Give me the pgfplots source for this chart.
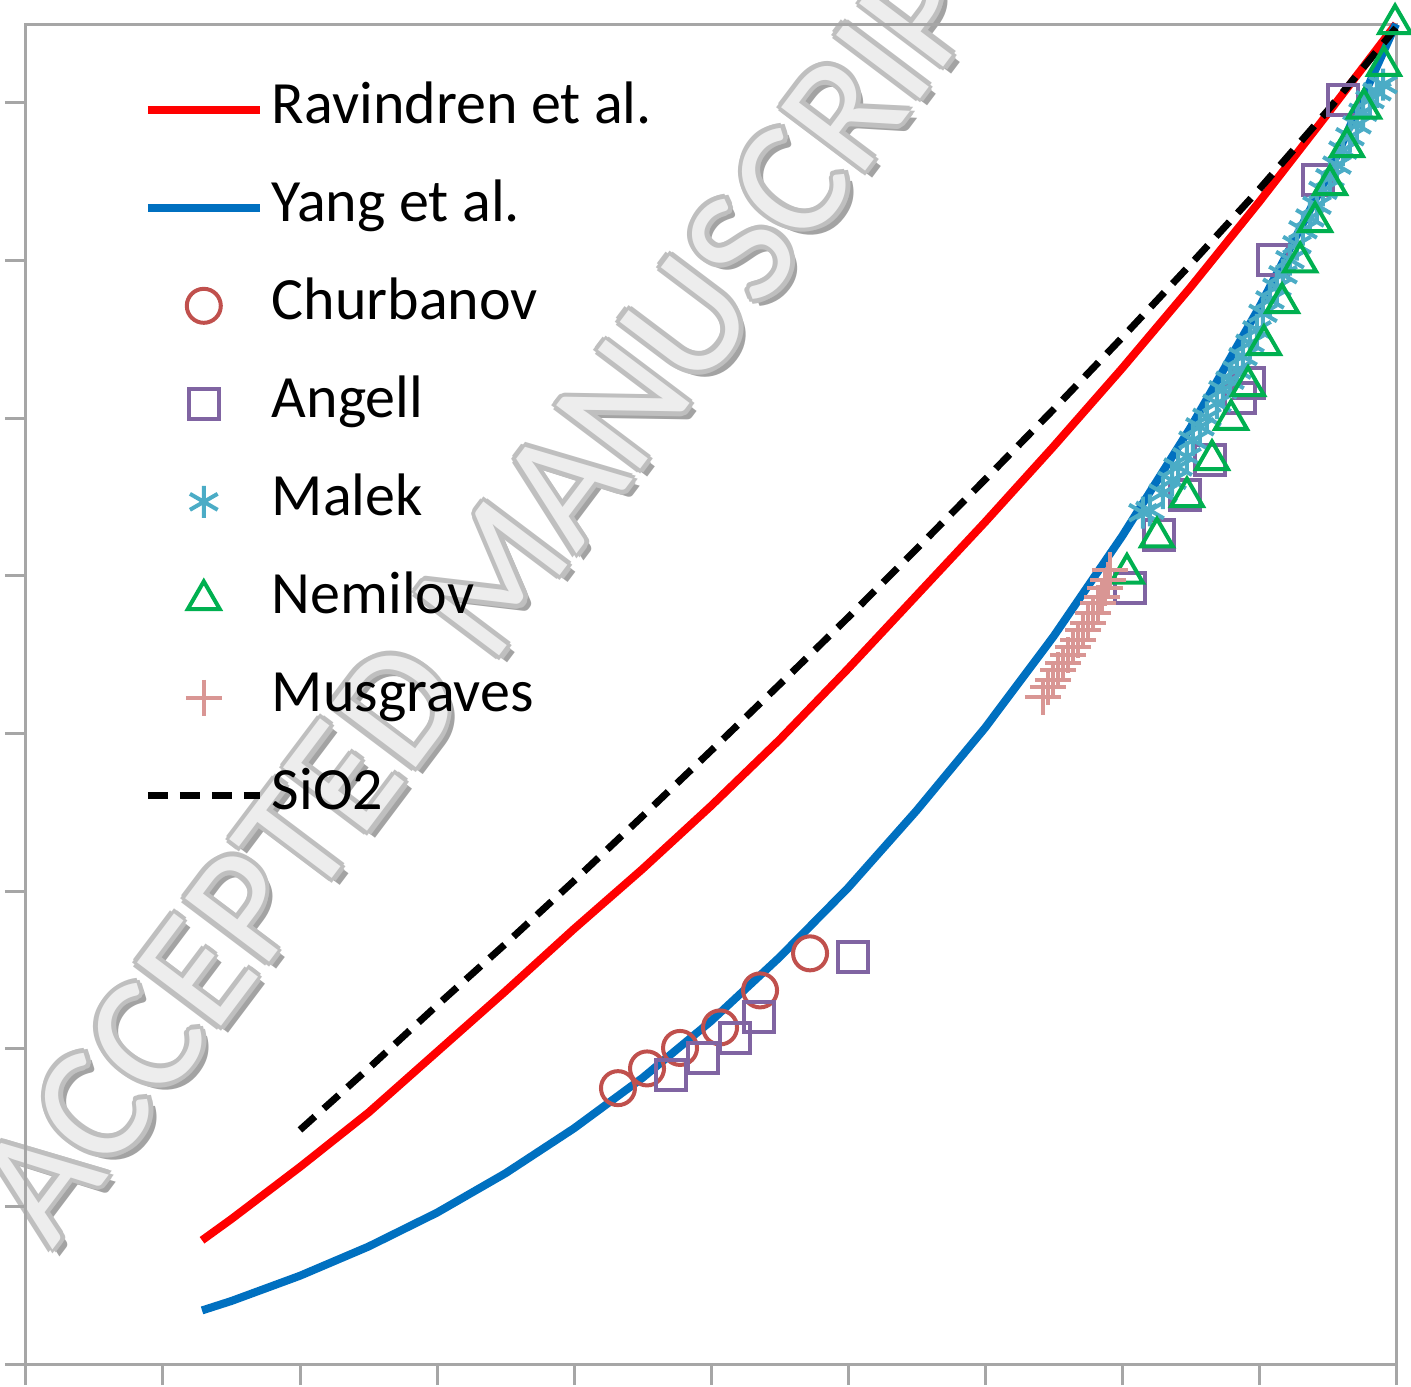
\documentclass[border=0pt]{standalone}
\usepackage{pgfplots}
\pgfplotsset{compat=1.18}
\usepackage{fontspec}
\setmainfont{Carlito}
\definecolor{axgray}{HTML}{A6A6A6}
\definecolor{rav}{HTML}{FF0000}
\definecolor{yang}{HTML}{0070C0}
\definecolor{churb}{HTML}{C0504D}
\definecolor{angell}{HTML}{8064A2}
\definecolor{malek}{HTML}{4BACC6}
\definecolor{nemilov}{HTML}{00B050}
\definecolor{musg}{HTML}{D99694}
\pgfplotsset{
  lineleg/.style={legend image code/.code={\draw[##1] (0pt,0pt) -- (28pt,0pt);}},
  markleg/.style={legend image code/.code={\draw[mark repeat=2,mark phase=2,##1] plot coordinates {(0pt,0pt) (14pt,0pt) (28pt,0pt)};}},
}
\newcommand\wm[3]{\node[rotate=53, font=\fontsize{41}{42}\selectfont, text=#1, inner sep=0pt] at (119pt+#2,199.5pt+#3) {ACCEPTED MANUSCRIPT};}
\begin{document}
\begin{tikzpicture}
% watermark (background)
\wm{gray!72}{1.8pt}{-1.8pt}
\wm{gray!50}{1.2pt}{0pt}
\wm{gray!50}{-1.2pt}{0pt}
\wm{gray!50}{0pt}{1.2pt}
\wm{gray!50}{0pt}{-1.2pt}
\wm{gray!50}{0.85pt}{0.85pt}
\wm{gray!50}{-0.85pt}{-0.85pt}
\wm{gray!50}{-0.85pt}{0.85pt}
\wm{gray!50}{0.85pt}{-0.85pt}
\wm{gray!14}{0pt}{0pt}
\begin{axis}[
  scale only axis, width=342.5pt, height=335pt,
  xmin=0, xmax=1, ymin=-5, ymax=12,
  xtick={0,0.1,0.2,0.3,0.4,0.5,0.6,0.7,0.8,0.9,1},
  ytick={-5,-3,-1,1,3,5,7,9,11},
  xticklabels={}, yticklabels={},
  tick pos=left, tick align=outside, major tick length=5.25pt,
  axis line style={axgray, line width=0.75pt},
  every tick/.style={axgray, line width=0.75pt},
  clip=false,
  legend cell align=left,
  legend style={draw=none, fill=none, at={(0,1)}, anchor=north west,
    xshift=26.25pt, yshift=-10.75pt, font=\fontsize{15}{18}\selectfont,
    row sep=7.5pt,
    /tikz/every odd column/.append style={column sep=1pt},
    nodes={inner sep=1pt, text height=11pt, text depth=4pt}},
]
% Ravindren et al.
\addplot[rav, line width=2pt, lineleg]
  coordinates {(0.1285,-3.43) (0.15,-3.16) (0.2,-2.50) (0.25,-1.81) (0.3,-1.04) (0.35,-0.27) (0.4,0.52) (0.45,1.28) (0.5,2.08) (0.55,2.92) (0.6,3.82) (0.65,4.75) (0.7,5.68) (0.75,6.64) (0.8,7.63) (0.85,8.66) (0.9,9.74) (0.95,10.86) (1.0,12.0)};
\addlegendentry{Ravindren et al.}
% Yang et al.
\addplot[yang, line width=2pt, lineleg]
  coordinates {(0.1285,-4.32) (0.15,-4.20) (0.2,-3.88) (0.25,-3.51) (0.3,-3.08) (0.35,-2.58) (0.4,-2.01) (0.45,-1.37) (0.5,-0.65) (0.55,0.16) (0.6,1.04) (0.65,2.02) (0.7,3.07) (0.75,4.23) (0.8,5.50) (0.85,6.88) (0.9,8.40) (0.95,10.07) (1.0,12.0)};
\addlegendentry{Yang et al.}
% Churbanov
\addplot[only marks, mark=o, mark size=4.25pt, churb, line width=1pt, markleg]
  coordinates {(0.4321,-1.50) (0.4533,-1.25) (0.4774,-0.99) (0.5066,-0.73) (0.5358,-0.26) (0.5723,0.21)};
\addlegendentry{Churbanov}
% Angell
\addplot[only marks, mark=square, mark size=3.75pt, angell, line width=1pt, markleg]
  coordinates {(0.4708,-1.33) (0.4942,-1.12) (0.5175,-0.86) (0.5350,-0.60) (0.6036,0.16)
  (0.8058,4.84) (0.8270,5.52) (0.8460,6.02) (0.8640,6.47) (0.8860,7.26) (0.8930,7.45) (0.9100,9.01) (0.9430,10.02) (0.9610,11.04)};
\addlegendentry{Angell}
% Malek
\addplot[only marks, mark=asterisk, mark size=4pt, malek, line width=1pt, markleg]
  coordinates {(0.8153,5.80) (0.8204,5.83) (0.8299,6.05) (0.8365,6.21) (0.8409,6.38) (0.8474,6.51) (0.8518,6.72) (0.8569,6.89) (0.8620,7.01) (0.8693,7.19) (0.8737,7.36) (0.8788,7.48) (0.8839,7.61) (0.8883,7.78) (0.8934,7.95) (0.8985,8.12) (0.9029,8.33) (0.9080,8.50) (0.9131,8.66) (0.9175,8.82) (0.9226,9.01) (0.9277,9.20) (0.9321,9.39) (0.9372,9.54) (0.9423,9.70) (0.9467,9.89) (0.9518,10.05) (0.9569,10.21) (0.9613,10.40) (0.9664,10.57) (0.9715,10.72) (0.9759,10.88) (0.9810,11.04) (0.9861,11.14) (0.9905,11.23)};
\addlegendentry{Malek}
% Nemilov
\addplot[only marks, mark=triangle, mark size=4.6pt, nemilov, line width=1pt, markleg]
  coordinates {(0.8036,5.03) (0.8255,5.49) (0.8474,6.00) (0.8657,6.47) (0.8796,6.98) (0.8920,7.41) (0.9036,7.93) (0.9168,8.46) (0.9300,8.98) (0.9409,9.49) (0.9518,9.96) (0.9642,10.44) (0.9766,10.93) (0.9912,11.47) (0.9993,12.00)};
\addlegendentry{Nemilov}
% Musgraves
\addplot[only marks, mark=+, mark size=4.5pt, musg, line width=1pt, markleg]
  coordinates {(0.7423,3.46) (0.7460,3.59) (0.7496,3.68) (0.7533,3.80) (0.7569,3.89) (0.7606,3.99) (0.7642,4.10) (0.7679,4.18) (0.7715,4.31) (0.7752,4.40) (0.7788,4.53) (0.7825,4.65) (0.7854,4.73) (0.7876,4.84) (0.7898,4.95) (0.7912,5.07)};
\addlegendentry{Musgraves}
% SiO2
\addplot[black, line width=1.75pt, dash pattern=on 5pt off 3pt, lineleg]
  coordinates {(0.2,-2.03) (0.25,-1.25) (0.3,-0.45) (0.35,0.33) (0.4,1.13) (0.45,1.95) (0.5,2.78) (0.55,3.62) (0.6,4.47) (0.65,5.34) (0.7,6.22) (0.75,7.11) (0.8,8.02) (0.85,8.95) (0.9,9.90) (0.95,10.90) (1.0,11.95)};
\addlegendentry{SiO2}
\end{axis}
\pgfresetboundingbox
\path[use as bounding box] (-6.5pt,-5.5pt) rectangle (346.25pt,341pt);
\end{tikzpicture}
\end{document}
